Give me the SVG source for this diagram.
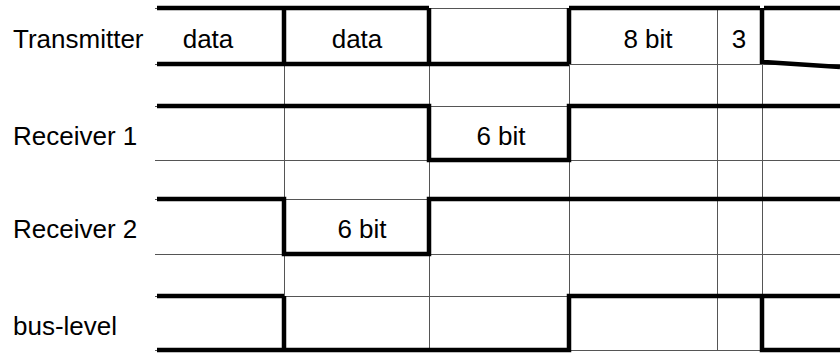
<svg xmlns="http://www.w3.org/2000/svg" width="840" height="353" viewBox="0 0 840 353">
<style>
.grid{stroke:#555;stroke-width:1;fill:none}
.sig{stroke:#000;stroke-width:4.5;fill:none;stroke-linecap:butt;stroke-linejoin:miter}
text{font-family:"Liberation Sans",Arial,sans-serif;font-size:26px;fill:#000}
.c{text-anchor:middle}
</style>
<rect width="840" height="353" fill="#fff"/>
<g id="grid" class="grid">
<path d="M155,8.5H840M155,64.5H840M155,106.5H840M155,160.5H840M155,199.5H840M155,254.5H840M155,296.5H840M155,350.5H840"/>
<path d="M284.5,8V350M429.5,8V350M569.5,8V350M717.5,8V350M762.5,8V350"/>
</g>
<g id="transmitter">
<text x="13" y="48">Transmitter</text>
<path class="sig" d="M157,8H429M569,8H760M764,8H840M157,64H569M764,62L840,67M284,8V64M429,8V64M569,8V64M762,8V64"/>
<text x="208" y="48" class="c">data</text>
<text x="357" y="48" class="c">data</text>
<text x="648" y="48" class="c">8 bit</text>
<text x="739" y="48" class="c">3</text>
</g>
<g id="receiver1">
<text x="13" y="145">Receiver 1</text>
<path class="sig" d="M157,106H429V160H569V106H840"/>
<text x="501" y="145" class="c">6 bit</text>
</g>
<g id="receiver2">
<text x="13" y="238">Receiver 2</text>
<path class="sig" d="M157,199H284V254H429V199H840"/>
<text x="362" y="238" class="c">6 bit</text>
</g>
<g id="bus-level">
<text x="13" y="335">bus-level</text>
<path class="sig" d="M157,296H284M157,350H284M284,296V350H569V296H762V350H840M762,296H840"/>
</g>
</svg>
